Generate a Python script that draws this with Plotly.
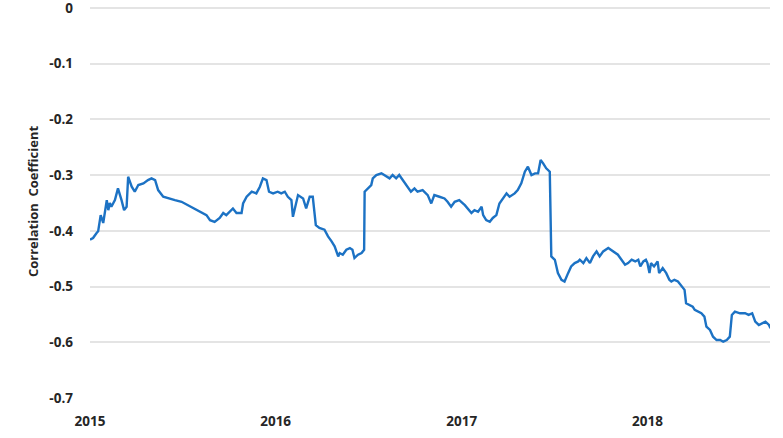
import plotly.graph_objects as go

dates = [
    "2015-01-01", "2015-01-07", "2015-01-14", "2015-01-17", "2015-01-22", "2015-01-27",
    "2015-02-03", "2015-02-06", "2015-02-09", "2015-02-12", "2015-02-19", "2015-02-25",
    "2015-03-04", "2015-03-09", "2015-03-14", "2015-03-17", "2015-03-24", "2015-03-30",
    "2015-04-06", "2015-04-16", "2015-04-25", "2015-05-02", "2015-05-09", "2015-05-15",
    "2015-05-25", "2015-06-04", "2015-06-17", "2015-06-30", "2015-07-13", "2015-07-26",
    "2015-08-08", "2015-08-18", "2015-08-25", "2015-09-03", "2015-09-13", "2015-09-20",
    "2015-09-26", "2015-10-03", "2015-10-09", "2015-10-16", "2015-10-26", "2015-10-29",
    "2015-11-05", "2015-11-15", "2015-11-24", "2015-12-01", "2015-12-07", "2015-12-14",
    "2015-12-19", "2015-12-27",
    "2016-01-05", "2016-01-12", "2016-01-19", "2016-01-25", "2016-02-01", "2016-02-04",
    "2016-02-09", "2016-02-14", "2016-02-24", "2016-03-01", "2016-03-08", "2016-03-14",
    "2016-03-20", "2016-03-27", "2016-04-06", "2016-04-13", "2016-04-20", "2016-04-26",
    "2016-05-03", "2016-05-06", "2016-05-12", "2016-05-19", "2016-05-26", "2016-05-31",
    "2016-06-04", "2016-06-11", "2016-06-18", "2016-06-23", "2016-06-24", "2016-06-30",
    "2016-07-07", "2016-07-10", "2016-07-17", "2016-07-27", "2016-08-05", "2016-08-12",
    "2016-08-18", "2016-08-25", "2016-08-31", "2016-09-07", "2016-09-17", "2016-09-23",
    "2016-09-30", "2016-10-06", "2016-10-16", "2016-10-26", "2016-11-02", "2016-11-08",
    "2016-11-18", "2016-11-28", "2016-12-04", "2016-12-11", "2016-12-18", "2016-12-27",
    "2017-01-07", "2017-01-13", "2017-01-20", "2017-01-26", "2017-02-02", "2017-02-09",
    "2017-02-12", "2017-02-18", "2017-02-25", "2017-03-03", "2017-03-10", "2017-03-16",
    "2017-03-23", "2017-03-30", "2017-04-05", "2017-04-15", "2017-04-21", "2017-04-28",
    "2017-05-05", "2017-05-11", "2017-05-18", "2017-05-25", "2017-05-31", "2017-06-05",
    "2017-06-10", "2017-06-16", "2017-06-23", "2017-06-26", "2017-07-03", "2017-07-09",
    "2017-07-16", "2017-07-22", "2017-07-29", "2017-08-04", "2017-08-11", "2017-08-18",
    "2017-08-21", "2017-08-28", "2017-09-03", "2017-09-10", "2017-09-16", "2017-09-23",
    "2017-09-29", "2017-10-06", "2017-10-16", "2017-10-26", "2017-11-04", "2017-11-11",
    "2017-11-18", "2017-11-24", "2017-12-01", "2017-12-08", "2017-12-14", "2017-12-18",
    "2017-12-24", "2017-12-29",
    "2018-01-01", "2018-01-05", "2018-01-08", "2018-01-14", "2018-01-21", "2018-01-24",
    "2018-01-31", "2018-02-07", "2018-02-13", "2018-02-17", "2018-02-23", "2018-03-02",
    "2018-03-08", "2018-03-15", "2018-03-18", "2018-03-25", "2018-03-31", "2018-04-04",
    "2018-04-10", "2018-04-17", "2018-04-23", "2018-04-27", "2018-05-04", "2018-05-10",
    "2018-05-17", "2018-05-24", "2018-05-30", "2018-06-06", "2018-06-12", "2018-06-16",
    "2018-06-22", "2018-07-02", "2018-07-12", "2018-07-19", "2018-07-26", "2018-08-01",
    "2018-08-08", "2018-08-15", "2018-08-21", "2018-08-28", "2018-08-31",
]

correlation = [
    -0.416, -0.413, -0.404, -0.401, -0.372, -0.386,
    -0.345, -0.363, -0.350, -0.357, -0.345, -0.324,
    -0.345, -0.363, -0.357, -0.303, -0.321, -0.330,
    -0.318, -0.315, -0.309, -0.306, -0.309, -0.327,
    -0.339, -0.342, -0.345, -0.348, -0.354, -0.360,
    -0.366, -0.372, -0.381, -0.384, -0.377, -0.368,
    -0.372, -0.366, -0.360, -0.368, -0.368, -0.351,
    -0.339, -0.330, -0.333, -0.321, -0.306, -0.309,
    -0.330, -0.333,
    -0.330, -0.333, -0.330, -0.339, -0.345, -0.375,
    -0.354, -0.336, -0.342, -0.360, -0.339, -0.339,
    -0.390, -0.395, -0.398, -0.410, -0.419, -0.428,
    -0.446, -0.440, -0.443, -0.434, -0.431, -0.434,
    -0.449, -0.443, -0.440, -0.434, -0.330, -0.324,
    -0.318, -0.306, -0.300, -0.297, -0.303, -0.306,
    -0.300, -0.306, -0.300, -0.309, -0.321, -0.330,
    -0.324, -0.330, -0.327, -0.336, -0.351, -0.336,
    -0.339, -0.342, -0.348, -0.357, -0.348, -0.345,
    -0.354, -0.360, -0.368, -0.363, -0.366, -0.357,
    -0.372, -0.381, -0.384, -0.377, -0.372, -0.351,
    -0.342, -0.333, -0.339, -0.333, -0.327, -0.315,
    -0.294, -0.285, -0.300, -0.297, -0.297, -0.273,
    -0.279, -0.288, -0.294, -0.446, -0.452, -0.476,
    -0.488, -0.491, -0.476, -0.464, -0.458, -0.455,
    -0.452, -0.458, -0.449, -0.458, -0.446, -0.437,
    -0.446, -0.437, -0.431, -0.437, -0.443, -0.452,
    -0.461, -0.458, -0.452, -0.455, -0.452, -0.464,
    -0.455, -0.452,
    -0.458, -0.476, -0.458, -0.464, -0.455, -0.476,
    -0.467, -0.476, -0.488, -0.491, -0.488, -0.491,
    -0.497, -0.506, -0.530, -0.533, -0.536, -0.542,
    -0.545, -0.548, -0.554, -0.572, -0.578, -0.590,
    -0.596, -0.596, -0.599, -0.596, -0.590, -0.551,
    -0.545, -0.548, -0.548, -0.551, -0.548, -0.563,
    -0.569, -0.566, -0.563, -0.569, -0.575,
]

x_tick_vals = ["2015-01-01", "2016-01-01", "2017-01-01", "2018-01-01"]
x_tick_text = ["2015", "2016", "2017", "2018"]
y_tick_vals = [0, -0.1, -0.2, -0.3, -0.4, -0.5, -0.6, -0.7]
y_tick_text = ["0", "-0.1", "-0.2", "-0.3", "-0.4", "-0.5", "-0.6", "-0.7"]

font_family = "Open Sans, Liberation Sans, sans-serif"
tick_font = dict(family=font_family, size=13.5, color="#262626", weight="bold")

fig = go.Figure()
fig.add_trace(go.Scatter(
    x=dates, y=correlation, mode="lines",
    line=dict(color="#1c72c4", width=2.4),
    showlegend=False,
))

fig.update_layout(
    width=783, height=438,
    margin=dict(l=90, r=13, t=5, b=40, autoexpand=False),
    paper_bgcolor="white", plot_bgcolor="white",
    xaxis=dict(
        type="date",
        range=["2015-01-01", "2018-08-30"],
        tickvals=x_tick_vals, ticktext=x_tick_text,
        showgrid=False, zeroline=False, showline=False,
        tickfont=tick_font, ticklabelstandoff=13,
        automargin=False,
    ),
    yaxis=dict(
        range=[-0.7, 0.005],
        tickvals=y_tick_vals, ticktext=y_tick_text,
        showgrid=True, gridcolor="#e4e4e4", gridwidth=1.6,
        zeroline=False, showline=False,
        tickfont=tick_font, ticklabelstandoff=16,
        ticklabeloverflow="allow",
        automargin=False,
        title=dict(text="Correlation  Coefficient",
                   font=dict(family=font_family, size=13, color="#262626",
                             weight="bold"),
                   standoff=7),
    ),
)

fig.write_html("out.html", config={"displayModeBar": False},
               post_script="document.body.style.margin='0';")
